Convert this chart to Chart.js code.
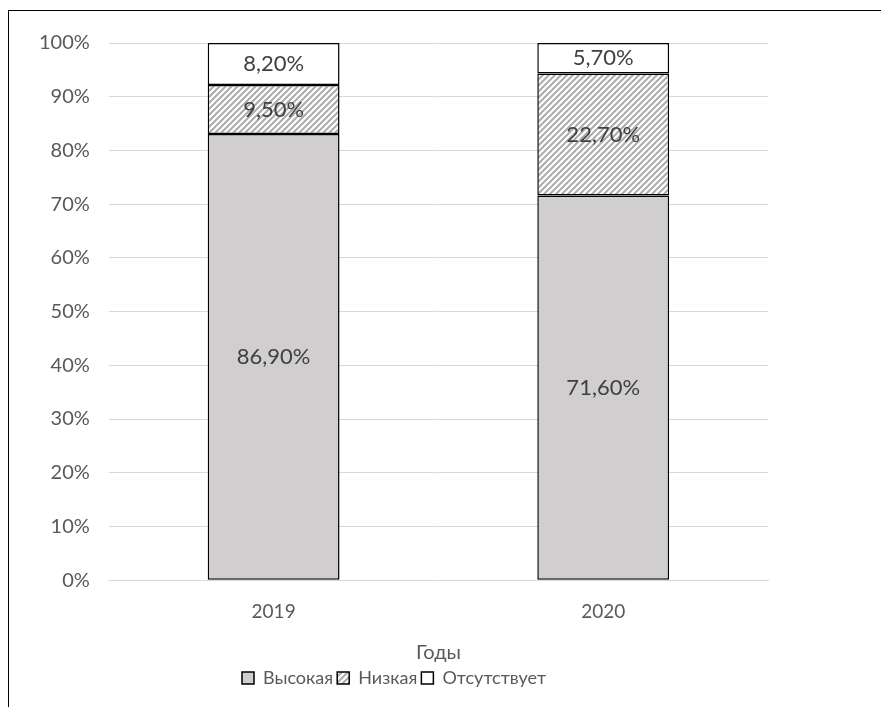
<!DOCTYPE html>
<html>
<head>
<meta charset="utf-8">
<script src="https://cdn.jsdelivr.net/npm/chart.js@4/dist/chart.umd.min.js"></script>
<style>
  html, body { margin: 0; padding: 0; background: #fff; }
  #wrap { position: relative; width: 881px; height: 707px; overflow: hidden; }
  #frame { position: absolute; left: 8px; top: 10px; width: 900px; height: 720px; border-left: 1.5px solid #000; border-top: 1.5px solid #000; }
  canvas { position: absolute; left: 0; top: 0; }
</style>
</head>
<body>
<div id="wrap">
  <div id="frame"></div>
  <canvas id="myChart" width="881" height="707"></canvas>
</div>
<script>
const years = ['2019', '2020'];
const vysokaya = [86.9, 71.6];
const nizkaya = [9.5, 22.7];
const otsutstvuet = [8.2, 5.7];
const yTicks = [0, 10, 20, 30, 40, 50, 60, 70, 80, 90, 100];

const FONT = 'Lato, "Open Sans", sans-serif';

// 100% stacked: each year scaled to its total, labels keep raw values
function share(arr, idx) {
    const total = vysokaya[idx] + nizkaya[idx] + otsutstvuet[idx];
    return arr[idx] / total * 100;
}

function hatch() {
    const c = document.createElement('canvas');
    c.width = 6; c.height = 6;
    const g = c.getContext('2d');
    g.fillStyle = '#fff';
    g.fillRect(0, 0, 6, 6);
    g.strokeStyle = '#ababab';
    g.lineWidth = 2;
    g.beginPath();
    g.moveTo(-1, 7); g.lineTo(7, -1);
    g.moveTo(-4, 4); g.lineTo(4, -4);
    g.moveTo(2, 10); g.lineTo(10, 2);
    g.stroke();
    return g.createPattern(c, 'repeat');
}

function fmt(v) {
    return v.toFixed(2).replace('.', ',') + '%';
}

const labelPlugin = {
    id: 'segLabels',
    afterDatasetsDraw(chart) {
        const ctx = chart.ctx;
        ctx.save();
        ctx.font = '22px ' + FONT;
        ctx.fillStyle = '#404040';
        ctx.textAlign = 'center';
        ctx.textBaseline = 'middle';
        chart.data.datasets.forEach((ds, i) => {
            chart.getDatasetMeta(i).data.forEach((bar, j) => {
                const mid = (bar.y + bar.base) / 2;
                ctx.fillText(fmt(ds.raw[j]), bar.x, mid);
            });
        });
        ctx.restore();
    }
};

function mainEvent() {
    const ctx = document.querySelector('#myChart');
    const makeSet = (label, arr, color) => ({
        label: label,
        raw: arr,
        data: years.map((y, i) => share(arr, i)),
        backgroundColor: color,
        borderColor: '#000',
        borderWidth: 1.5,
        borderSkipped: false,
        barPercentage: 0.8,
        categoryPercentage: 0.5
    });

    new Chart(ctx, {
        type: 'bar',
        data: {
            labels: years,
            datasets: [
                makeSet('Высокая', vysokaya, '#d0cece'),
                makeSet('Низкая', nizkaya, hatch()),
                makeSet('Отсутствует', otsutstvuet, '#ffffff')
            ]
        },
        options: {
            responsive: false,
            animation: false,
            layout: { padding: { left: 20, right: 113, top: 43, bottom: 10 } },
            scales: {
                x: {
                    stacked: true,
                    grid: { display: false },
                    border: { color: '#d9d9d9', width: 1 },
                    ticks: { color: '#595959', font: { size: 19, family: FONT }, padding: 12 },
                    title: { display: true, text: 'Годы', color: '#595959', font: { size: 20, family: FONT }, padding: { top: 6, bottom: 0 } }
                },
                y: {
                    stacked: true,
                    min: 0,
                    max: 100,
                    afterBuildTicks: axis => { axis.ticks = yTicks.map(v => ({ value: v })); },
                    grid: { color: '#d9d9d9', lineWidth: 1, drawTicks: false },
                    border: { display: false },
                    ticks: { color: '#595959', font: { size: 20, family: FONT }, padding: 19, callback: v => v + '%' }
                }
            },
            plugins: {
                legend: {
                    position: 'bottom',
                    labels: {
                        color: '#595959',
                        font: { size: 18, family: FONT },
                        boxWidth: 12,
                        boxHeight: 12,
                        padding: 4
                    }
                },
                tooltip: { enabled: false }
            }
        },
        plugins: [labelPlugin]
    });
}

document.addEventListener("DOMContentLoaded", () => mainEvent());
</script>
</body>
</html>
